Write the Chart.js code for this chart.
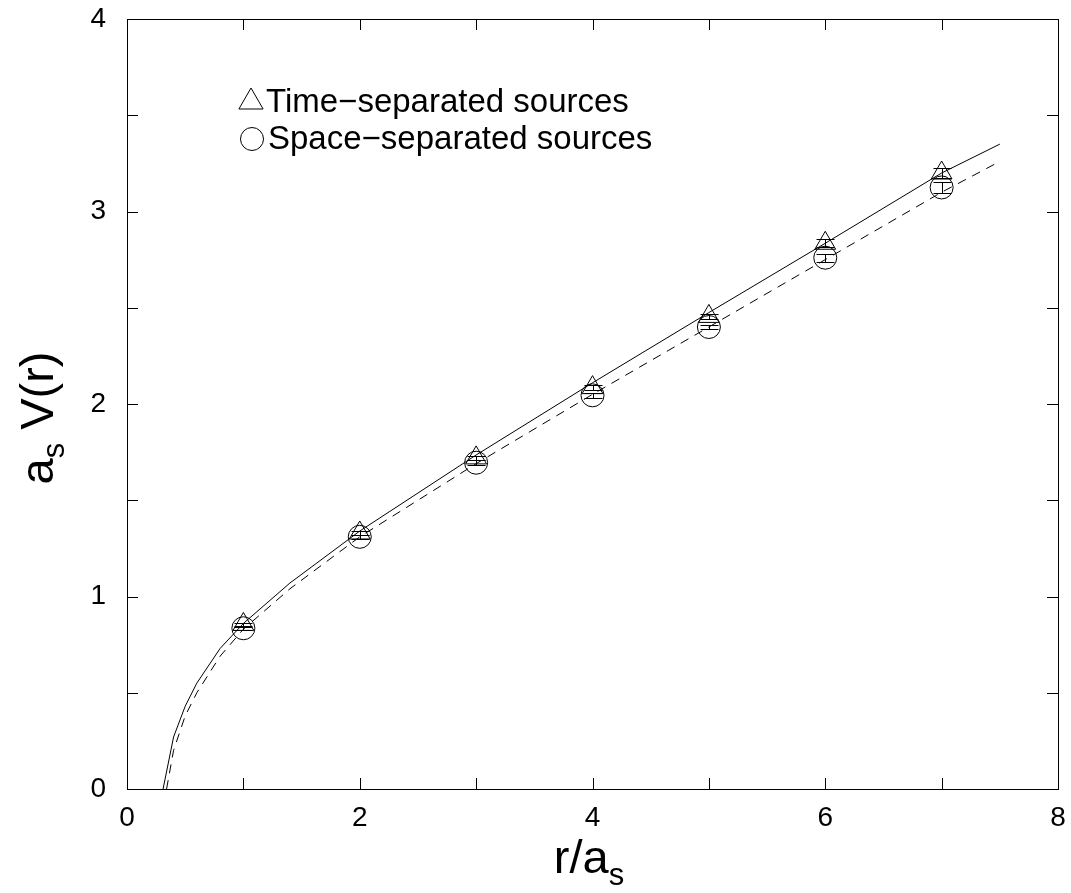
<!DOCTYPE html>
<html>
<head>
<meta charset="utf-8">
<script src="https://cdn.jsdelivr.net/npm/chart.js@4.4.1/dist/chart.umd.min.js"></script>
<style>
  body { margin: 0; background: #fff; }
  canvas { display: block; }
</style>
</head>
<body>
<canvas id="chart-pot" width="1071" height="893"></canvas>
<script>
// Data -------------------------------------
// --> values

const r_points = [1, 2, 3, 4, 5, 6, 7]
const v_time = [0.855, 1.33, 1.72, 2.085, 2.455, 2.835, 3.20]
const err_time = [0.008, 0.01, 0.012, 0.012, 0.015, 0.02, 0.025]
const v_space = [0.835, 1.31, 1.695, 2.045, 2.40, 2.76, 3.125]
const err_space = [0.008, 0.01, 0.012, 0.012, 0.012, 0.02, 0.03]

// fit curves
const r_fit_solid = [0.31, 0.4, 0.5, 0.6, 0.8, 1.0, 1.4, 2, 3, 4, 5, 6, 7, 7.5]
const v_fit_solid = [0.0, 0.27, 0.43, 0.55, 0.73, 0.86, 1.07, 1.34, 1.735, 2.11, 2.475, 2.835, 3.20, 3.35]
const r_fit_dash = [0.34, 0.4, 0.5, 0.6, 0.8, 1.0, 1.4, 2, 3, 4, 5, 6, 7, 7.5]
const v_fit_dash = [0.0, 0.2, 0.38, 0.5, 0.69, 0.83, 1.04, 1.31, 1.69, 2.05, 2.40, 2.75, 3.10, 3.26]

const x_ticks = [0, 2, 4, 6, 8]
const x_minor = [1, 3, 5, 7]
const y_ticks = [0, 1, 2, 3, 4]
const y_minor = [0.5, 1.5, 2.5, 3.5]

const legend_labels = ['Time\u2212separated sources', 'Space\u2212separated sources']

const font_family = '"Liberation Sans", Arial, Helvetica, sans-serif'

// Helpers -------------------------------------

function toXY(xs, ys) {
    return xs.map(function (x, i) { return { x: x, y: ys[i] } })
}

function drawTriangle(ctx, x, y, rad) {
    ctx.beginPath()
    for (var k = 0; k < 3; k++) {
        var a = k * 2 * Math.PI / 3
        var px = x + Math.sin(a) * rad
        var py = y - Math.cos(a) * rad
        if (k == 0) ctx.moveTo(px, py)
        else ctx.lineTo(px, py)
    }
    ctx.closePath()
    ctx.stroke()
}

// Plugins -------------------------------------

// frame, inward ticks on all four sides
const framePlugin = {
    id: 'frame',
    afterDraw: function (chart) {
        const ctx = chart.ctx
        const a = chart.chartArea
        const sx = chart.scales.x
        const sy = chart.scales.y
        const len = 11
        ctx.save()
        ctx.strokeStyle = '#000'
        ctx.lineWidth = 1
        ctx.strokeRect(a.left + 0.5, a.top + 0.5, a.right - a.left, a.bottom - a.top)
        ctx.beginPath()
        x_ticks.concat(x_minor).forEach(function (v) {
            var px = Math.round(sx.getPixelForValue(v)) + 0.5
            ctx.moveTo(px, a.bottom); ctx.lineTo(px, a.bottom - len)
            ctx.moveTo(px, a.top); ctx.lineTo(px, a.top + len)
        })
        y_ticks.concat(y_minor).forEach(function (v) {
            var py = Math.round(sy.getPixelForValue(v)) + 0.5
            ctx.moveTo(a.left, py); ctx.lineTo(a.left + len, py)
            ctx.moveTo(a.right, py); ctx.lineTo(a.right - len, py)
        })
        ctx.stroke()
        ctx.restore()
    }
}

// error bars with caps
const errorPlugin = {
    id: 'errbars',
    afterDatasetsDraw: function (chart) {
        const ctx = chart.ctx
        const sx = chart.scales.x
        const sy = chart.scales.y
        ctx.save()
        ctx.strokeStyle = '#000'
        ctx.lineWidth = 1
        chart.data.datasets.forEach(function (ds) {
            if (!ds.errors) return
            ds.data.forEach(function (p, i) {
                var px = Math.round(sx.getPixelForValue(p.x)) + 0.5
                var top = Math.round(sy.getPixelForValue(p.y + ds.errors[i])) + 0.5
                var bot = Math.round(sy.getPixelForValue(p.y - ds.errors[i])) + 0.5
                ctx.beginPath()
                ctx.moveTo(px, top); ctx.lineTo(px, bot)
                ctx.moveTo(px - 9, top); ctx.lineTo(px + 9, top)
                ctx.moveTo(px - 9, bot); ctx.lineTo(px + 9, bot)
                ctx.stroke()
            })
        })
        ctx.restore()
    }
}

// axis titles with subscripts, and the legend inside the plot
const textPlugin = {
    id: 'texts',
    afterDraw: function (chart) {
        const ctx = chart.ctx
        ctx.save()
        ctx.fillStyle = '#000'
        ctx.strokeStyle = '#000'
        ctx.lineWidth = 1
        ctx.textBaseline = 'alphabetic'

        // x title: r/a_s
        var big = '47px ' + font_family
        var small = '31px ' + font_family
        ctx.font = big
        var w1 = ctx.measureText('r/a').width
        ctx.font = small
        var w2 = ctx.measureText('s').width
        var x0 = 589 - (w1 + w2) / 2
        ctx.font = big
        ctx.fillText('r/a', x0, 873)
        ctx.font = small
        ctx.fillText('s', x0 + w1, 885)

        // y title: a_s V(r)
        ctx.translate(53, 418)
        ctx.rotate(-Math.PI / 2)
        ctx.font = big
        var wa = ctx.measureText('a').width
        var wv = ctx.measureText(' V(r)').width
        ctx.font = small
        var ws = ctx.measureText('s').width
        var y0 = -(wa + ws + wv) / 2
        ctx.font = big
        ctx.fillText('a', y0, 0)
        ctx.font = small
        ctx.fillText('s', y0 + wa, 11)
        ctx.font = big
        ctx.fillText(' V(r)', y0 + wa + ws, 0)
        ctx.setTransform(1, 0, 0, 1, 0, 0)

        // legend
        ctx.font = '33px ' + font_family
        drawTriangle(ctx, 251, 102, 14)
        ctx.fillText(legend_labels[0], 266, 112)
        ctx.beginPath()
        ctx.arc(252, 139, 11.5, 0, 2 * Math.PI)
        ctx.stroke()
        ctx.fillText(legend_labels[1], 268, 149)
        ctx.restore()
    }
}

// Chart generation -------------------------------------

const data = {
    datasets: [
        {
            label: 'fit solid',
            type: 'line',
            data: toXY(r_fit_solid, v_fit_solid),
            borderColor: '#000',
            borderWidth: 1,
            pointRadius: 0,
            tension: 0,
        },
        {
            label: 'fit dashed',
            type: 'line',
            data: toXY(r_fit_dash, v_fit_dash),
            borderColor: '#000',
            borderWidth: 1,
            borderDash: [9, 7],
            pointRadius: 0,
            tension: 0,
        },
        {
            label: legend_labels[0],
            data: toXY(r_points, v_time),
            errors: err_time,
            pointStyle: 'triangle',
            pointRadius: 12,
            borderColor: '#000',
            borderWidth: 1,
            backgroundColor: 'rgba(0,0,0,0)',
        },
        {
            label: legend_labels[1],
            data: toXY(r_points, v_space),
            errors: err_space,
            pointStyle: 'circle',
            pointRadius: 11.5,
            borderColor: '#000',
            borderWidth: 1,
            backgroundColor: 'rgba(0,0,0,0)',
        },
    ]
}

const config = {
    type: 'scatter',
    data: data,
    options: {
        responsive: false,
        animation: false,
        devicePixelRatio: 1,
        layout: {
            padding: { left: 0, right: 12, top: 19, bottom: 0 },
        },
        plugins: {
            legend: { display: false },
            tooltip: { enabled: false },
        },
        scales: {
            x: {
                type: 'linear',
                min: 0,
                max: 8,
                afterFit: function (s) {
                    s.height = 104
                    s.paddingLeft = 0
                    s.paddingRight = 0
                },
                afterBuildTicks: function (s) {
                    s.ticks = x_ticks.map(function (v) { return { value: v } })
                },
                grid: { display: false, drawTicks: false },
                border: { display: false },
                ticks: {
                    padding: 12,
                    color: '#000',
                    font: { family: font_family, size: 28 },
                },
            },
            y: {
                type: 'linear',
                min: 0,
                max: 4,
                afterFit: function (s) {
                    s.width = 127
                    s.paddingTop = 0
                    s.paddingBottom = 0
                },
                afterBuildTicks: function (s) {
                    s.ticks = y_ticks.map(function (v) { return { value: v } })
                },
                grid: { display: false, drawTicks: false },
                border: { display: false },
                ticks: {
                    padding: 21,
                    color: '#000',
                    font: { family: font_family, size: 28 },
                },
            },
        },
    },
    plugins: [framePlugin, errorPlugin, textPlugin],
}

const context = document.getElementById('chart-pot').getContext('2d')
const chart = new Chart(context, config)
</script>
</body>
</html>
